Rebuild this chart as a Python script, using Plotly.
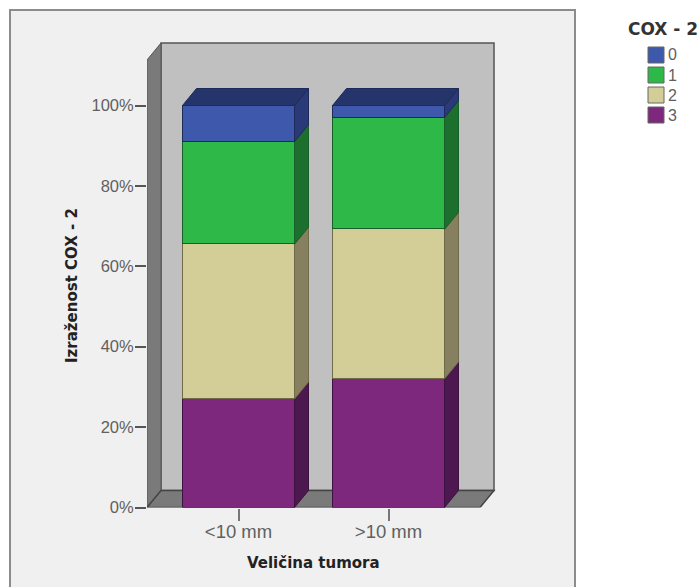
import plotly.graph_objects as go

categories = ["<10 mm", ">10 mm"]
series_names = ["0", "1", "2", "3"]
cox_3 = [27.0, 32.0]
cox_2 = [38.5, 37.2]
cox_1 = [25.5, 27.8]
cox_0 = [9.0, 3.0]
y_ticks = [0, 20, 40, 60, 80, 100]
y_labels = ["0%", "20%", "40%", "60%", "80%", "100%"]

W, H = 699, 587
L, R, T, B = 147, 496, 41, 507.5
PX_X = 150.0   # px per category step
PX_Y = 4.02    # px per percent
X0 = 238.5
BAR_W = 112 / PX_X
DX = 14 / PX_X
DY = 17 / PX_Y
xmin = (L - X0) / PX_X
xmax = (R - X0) / PX_X
ymax = (B - T) / PX_Y

FRONT = {"0": "#3e58ac", "1": "#2eb848", "2": "#d3ce97", "3": "#7d287d"}
SIDE = {"0": "#2a3a78", "1": "#1d6f2e", "2": "#867f60", "3": "#4c184f"}
TOP = "#25346a"
EDGE = {"0": "#1d2a5a", "1": "#17602a", "2": "#6f6a48", "3": "#3e1240"}
FONT_N = "Liberation Sans"
FONT_B = "DejaVu Sans"
TXT = "#606060"

stack = [("3", cox_3), ("2", cox_2), ("1", cox_1), ("0", cox_0)]
xs = list(range(len(categories)))
fig = go.Figure()

for name, vals in stack:
    fig.add_trace(go.Bar(x=xs, y=vals, width=BAR_W, name=name, marker=dict(color=FRONT[name],
                  line=dict(color=EDGE[name], width=1)), showlegend=False, hoverinfo="skip"))

for i in xs:
    base = 0.0
    xr = i + BAR_W / 2
    xl = i - BAR_W / 2
    for name, vals in stack:
        top = base + vals[i]
        fig.add_trace(go.Scatter(
            x=[xr, xr + DX, xr + DX, xr, xr],
            y=[base, base + DY, top + DY, top, base],
            mode="lines", fill="toself", fillcolor=SIDE[name],
            line=dict(color=EDGE[name], width=1), showlegend=False, hoverinfo="skip"))
        base = top
    fig.add_trace(go.Scatter(
        x=[xl, xl + DX, xr + DX, xr, xl],
        y=[base, base + DY, base + DY, base, base],
        mode="lines", fill="toself", fillcolor=TOP,
        line=dict(color="#1d2a5a", width=1), showlegend=False, hoverinfo="skip"))


def px_x(p):
    return p / W


def px_y(p):
    return (H - p) / H


wall_top = (B - 43) / PX_Y
floor_y = DY
right_front = (480 - X0) / PX_X
shapes = [
    dict(type="rect", xref="paper", yref="paper", x0=px_x(10), x1=px_x(575),
         y0=px_y(10), y1=px_y(600), fillcolor="#f0f0f0",
         line=dict(color="#8c8c8c", width=2), layer="below"),
    dict(type="rect", xref="x", yref="y", x0=xmin + DX, x1=right_front + DX, y0=floor_y, y1=wall_top,
         fillcolor="#c0c0c0", line=dict(color="#555555", width=1.5), layer="below"),
    dict(type="path", xref="x", yref="y",
         path=f"M {xmin},0 L {xmin + DX},{floor_y} L {xmin + DX},{wall_top} L {xmin},{wall_top - DY} Z",
         fillcolor="#7a7a7a", line=dict(color="#555555", width=1), layer="below"),
    dict(type="path", xref="x", yref="y",
         path=f"M {xmin},0 L {right_front},0 L {right_front + DX},{floor_y} L {xmin + DX},{floor_y} Z",
         fillcolor="#7a7a7a", line=dict(color="#444444", width=1.5), layer="below"),
]

annotations = [
    dict(text="<b>COX - 2</b>", xref="paper", yref="paper", x=px_x(626), y=px_y(29),
         xanchor="left", yanchor="middle", showarrow=False,
         font=dict(size=17, color="#333333", family=FONT_B)),
    dict(text="<b>Veličina tumora</b>", xref="paper", yref="paper", x=px_x(313.5), y=px_y(563),
         xanchor="center", yanchor="middle", showarrow=False,
         font=dict(size=15, color="#222222", family=FONT_B)),
    dict(text="<b>Izraženost COX - 2</b>", xref="paper", yref="paper", x=px_x(72), y=px_y(286),
         xanchor="center", yanchor="middle", showarrow=False, textangle=-90,
         font=dict(size=15, color="#222222", family=FONT_B)),
]
for k, name in enumerate(series_names):
    yc = 55 + 20 * k
    shapes.append(dict(type="rect", xref="paper", yref="paper", x0=px_x(648), x1=px_x(664),
                       y0=px_y(yc - 8), y1=px_y(yc + 8), fillcolor=FRONT[name],
                       line=dict(color="#666666", width=1)))
    annotations.append(dict(text=name, xref="paper", yref="paper", x=px_x(666), y=px_y(yc),
                            xanchor="left", yanchor="middle", showarrow=False,
                            font=dict(size=16, color=TXT, family=FONT_N)))

fig.update_layout(
    width=W, height=H, autosize=False, barmode="stack", bargap=0,
    paper_bgcolor="white", plot_bgcolor="rgba(0,0,0,0)",
    margin=dict(l=0, r=0, t=0, b=0, pad=0),
    shapes=shapes, annotations=annotations, showlegend=False,
    font=dict(family=FONT_N, color=TXT),
    xaxis=dict(domain=[L / W, R / W], range=[xmin, xmax], automargin=False, tickmode="array",
               tickvals=xs, ticktext=categories, ticks="outside", ticklen=12,
               tickcolor="#777777", tickwidth=1.5, showgrid=False, zeroline=False, showline=False,
               ticklabelstandoff=-5,
               tickfont=dict(size=18.5, color=TXT, family=FONT_N)),
    yaxis=dict(domain=[(H - B) / H, (H - T) / H], range=[0, ymax], automargin=False,
               tickmode="array", tickvals=y_ticks, ticktext=y_labels, ticks="outside", ticklen=11,
               tickcolor="#555555", tickwidth=1.5, showgrid=False, zeroline=False, showline=False,
               ticklabelstandoff=-2,
               tickfont=dict(size=16.5, color=TXT, family=FONT_N)),
)

fig.write_html("out.html", config={"displayModeBar": False},
               post_script="document.body.style.margin='0';")
